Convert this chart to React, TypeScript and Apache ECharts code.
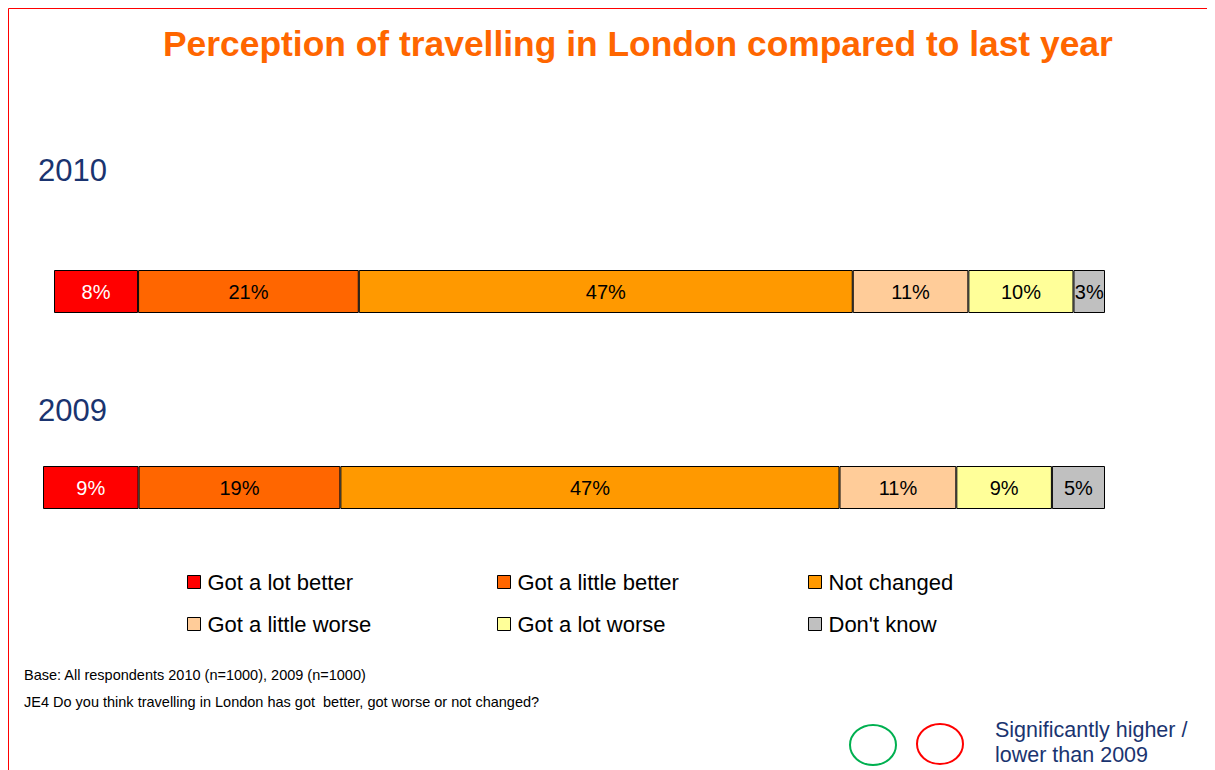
import React, { useEffect, useRef } from "react";
import * as echarts from "echarts";

const categories = ["Got a lot better", "Got a little better", "Not changed", "Got a little worse", "Got a lot worse", "Don't know"];
const colors = ["#FF0000", "#FF6600", "#FF9900", "#FFCC99", "#FFFF99", "#C0C0C0"];
const labelColors = ["#FFFFFF", "#000000", "#000000", "#000000", "#000000", "#000000"];
const years = ["2010", "2009"];
const values2010 = [8, 21, 47, 11, 10, 3];
const values2009 = [9, 19, 47, 11, 9, 5];

const FONT = "'Liberation Sans', Arial, sans-serif";
const NAVY = "#1A3470";

export default function App() {
  const ref = useRef<HTMLDivElement>(null);
  useEffect(() => {
    if (!ref.current) return;
    const chart = echarts.init(ref.current, null, { renderer: "svg" });
    const yearValues = [values2010, values2009];
    const grids = [
      { left: 46, top: 262, width: 1051, height: 43 },
      { left: 35, top: 458, width: 1062, height: 43 },
    ];
    const series: any[] = [];
    yearValues.forEach((vals, gi) => {
      categories.forEach((cat, i) => {
        series.push({
          type: "bar",
          name: cat,
          xAxisIndex: gi,
          yAxisIndex: gi,
          stack: "s" + gi,
          barWidth: "100%",
          data: [vals[i]],
          itemStyle: { color: colors[i], borderColor: "#000000", borderWidth: 1 },
          label: {
            show: true,
            position: "inside",
            formatter: "{c}%",
            fontSize: 20,
            fontFamily: FONT,
            color: labelColors[i],
          },
        });
      });
    });
    const legendPos = [
      { left: 179, top: 563 },
      { left: 489, top: 563 },
      { left: 800, top: 563 },
      { left: 179, top: 605 },
      { left: 489, top: 605 },
      { left: 800, top: 605 },
    ];
    const legends = categories.map((cat, i) => ({
      data: [cat],
      left: legendPos[i].left,
      top: legendPos[i].top,
      padding: 0,
      orient: "horizontal",
      icon: "rect",
      itemWidth: 13,
      itemHeight: 13,
      itemGap: 8,
      itemStyle: { borderColor: "#000000", borderWidth: 1 },
      textStyle: { fontSize: 22, fontFamily: FONT, color: "#000000", padding: [0, 0, 0, 2] },
      selectedMode: true,
    }));
    chart.setOption({
      animation: false,
      backgroundColor: "#FFFFFF",
      title: {
        text: "Perception of travelling in London compared to last year",
        left: 155,
        top: 18,
        padding: 0,
        textStyle: { fontSize: 35.4, fontWeight: "bold", color: "#FF6600", fontFamily: FONT },
      },
      grid: grids.map((g) => ({ ...g, containLabel: false })),
      xAxis: grids.map((_, gi) => ({
        type: "value",
        gridIndex: gi,
        min: 0,
        max: 100,
        show: false,
      })),
      yAxis: grids.map((_, gi) => ({
        type: "category",
        gridIndex: gi,
        data: [years[gi]],
        show: false,
      })),
      legend: legends,
      series,
      graphic: [
        {
          type: "rect",
          shape: { x: 0.5, y: 0.5, width: 1400, height: 1000 },
          style: { fill: "none", stroke: "#FF0000", lineWidth: 1 },
          silent: true,
        },
        {
          type: "text",
          left: 30,
          top: 147,
          style: { text: years[0], fontSize: 31, fontFamily: FONT, fill: NAVY },
        },
        {
          type: "text",
          left: 30,
          top: 387,
          style: { text: years[1], fontSize: 31, fontFamily: FONT, fill: NAVY },
        },
        {
          type: "text",
          left: 16,
          top: 659,
          style: { text: "Base: All respondents 2010 (n=1000), 2009 (n=1000)", fontSize: 14.5, fontFamily: FONT, fill: "#000000" },
        },
        {
          type: "text",
          left: 16,
          top: 686,
          style: { text: "JE4 Do you think travelling in London has got  better, got worse or not changed?", fontSize: 14.5, fontFamily: FONT, fill: "#000000" },
        },
        {
          type: "ellipse",
          shape: { cx: 865, cy: 737, rx: 23, ry: 20 },
          style: { fill: "none", stroke: "#00B050", lineWidth: 2 },
        },
        {
          type: "ellipse",
          shape: { cx: 932, cy: 736, rx: 23, ry: 20 },
          style: { fill: "none", stroke: "#FF0000", lineWidth: 2 },
        },
        {
          type: "text",
          left: 987,
          top: 709,
          style: { text: "Significantly higher /\nlower than 2009", fontSize: 21.5, lineHeight: 25, fontFamily: FONT, fill: NAVY },
        },
      ],
    });
    return () => chart.dispose();
  }, []);
  return <div ref={ref} style={{ width: 1207, height: 762 }} />;
}
